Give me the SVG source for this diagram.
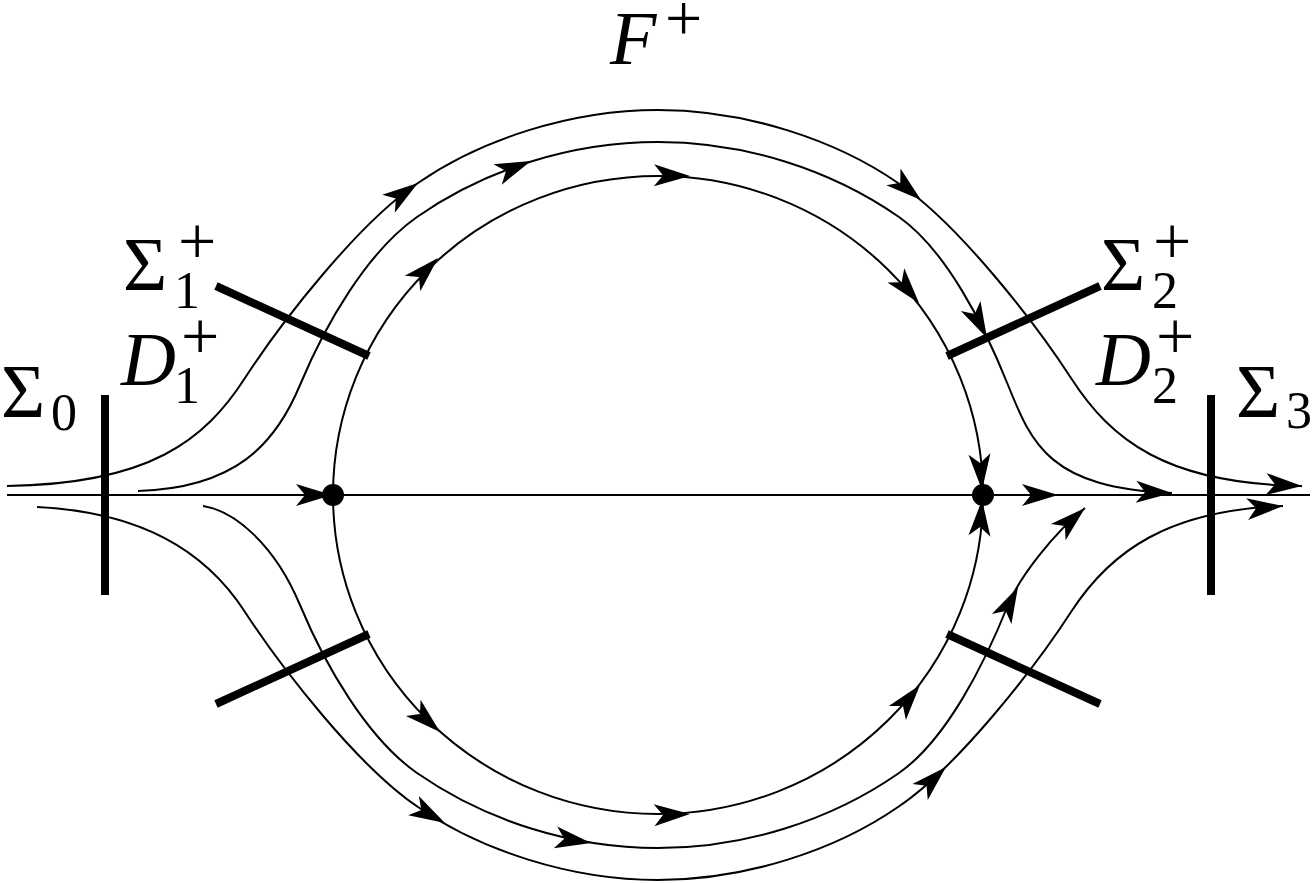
<svg xmlns="http://www.w3.org/2000/svg" width="1313" height="883" viewBox="0 0 1313 883">
<style>
.c{fill:none;stroke:#000;stroke-width:2}
.bar{fill:none;stroke:#000;stroke-width:8;stroke-linecap:butt}
.t{font-family:"Liberation Serif","Times New Roman",serif;fill:#000}
.i{font-style:italic}
.n{font-style:normal}
</style>
<defs>
<path id="ah" d="M0,0 L-36,-11 L-27,0 L-36,11 Z" fill="#000"/>
</defs>
<rect width="1313" height="883" fill="#fff"/>
<g id="connectors">
<line class="c" x1="7" y1="495" x2="1310" y2="495"/>
<ellipse class="c" cx="658" cy="495" rx="325" ry="319"/>
<path class="c" d="M138,491 C235,488 275,445 300,385 C325,325 367,252 417,217 C486,169 572,142 658,142 C744,142 830,169 899,217 C946,250 984,325 1008,385 C1032,445 1050,488 1172,493"/>
<path class="c" d="M7,486 C150,484 205,440 245,378 C280,324 358,223 418,183 C480,140 570,110 658,110 C746,110 836,140 898,183 C958,223 1036,324 1071,378 C1111,440 1166,484 1302,486"/>
<path class="c" d="M203,506 C235,511 275,545 300,605 C325,665 367,738 417,773 C486,821 572,848 658,848 C744,848 830,821 899,773 C946,740 984,665 1008,605 C1020,576 1055,532 1085,508"/>
<path class="c" d="M37,507 C140,512 205,550 245,612 C280,666 358,767 418,807 C480,850 570,880 658,880 C746,880 836,850 898,807 C958,767 1036,666 1071,612 C1111,550 1170,510 1283,506"/>
<use href="#ah" transform="translate(332,495)"/>
<use href="#ah" transform="translate(1058,495)"/>
<use href="#ah" transform="translate(438,258) rotate(-45)"/>
<use href="#ah" transform="translate(690,176) rotate(1)"/>
<use href="#ah" transform="translate(919,303) rotate(50)"/>
<use href="#ah" transform="translate(982,490) rotate(86)"/>
<use href="#ah" transform="translate(982,500) rotate(-86)"/>
<use href="#ah" transform="translate(440,732) rotate(42)"/>
<use href="#ah" transform="translate(690,814) rotate(-2)"/>
<use href="#ah" transform="translate(920,685) rotate(-51)"/>
<use href="#ah" transform="translate(531,161) rotate(-22)"/>
<use href="#ah" transform="translate(987,338) rotate(63)"/>
<use href="#ah" transform="translate(1172,493) rotate(2)"/>
<use href="#ah" transform="translate(591,843) rotate(9)"/>
<use href="#ah" transform="translate(1018,587) rotate(-63)"/>
<use href="#ah" transform="translate(1085,508) rotate(-42)"/>
<use href="#ah" transform="translate(418,183) rotate(-35)"/>
<use href="#ah" transform="translate(921,200) rotate(40)"/>
<use href="#ah" transform="translate(1302,486) rotate(3)"/>
<use href="#ah" transform="translate(445,823) rotate(29)"/>
<use href="#ah" transform="translate(946,767) rotate(-44)"/>
<use href="#ah" transform="translate(1283,506) rotate(-5)"/>
</g>
<g id="sigma0"><line class="bar" x1="105" y1="395" x2="105" y2="595"/></g>
<g id="sigma3"><line class="bar" x1="1211" y1="395" x2="1211" y2="595"/></g>
<g id="sigma1"><line class="bar" x1="216" y1="286" x2="369" y2="356"/></g>
<g id="sigma2"><line class="bar" x1="1100" y1="286" x2="947" y2="356"/></g>
<g id="sigma1m"><line class="bar" x1="216" y1="704" x2="369" y2="634"/></g>
<g id="sigma2m"><line class="bar" x1="1100" y1="704" x2="947" y2="634"/></g>
<g id="saddle1"><circle cx="333" cy="495" r="11" fill="#000"/></g>
<g id="saddle2"><circle cx="983" cy="495" r="11" fill="#000"/></g>
<g id="labels">
<text class="t i" x="610" y="64" font-size="76">F<tspan class="n" x="665" y="40" font-size="66">+</tspan></text>
<text class="t" x="123" y="290" font-size="76">Σ<tspan x="178" y="264" font-size="68">+</tspan><tspan x="174" y="308" font-size="52">1</tspan></text>
<text class="t i" x="121" y="385" font-size="76">D<tspan class="n" x="181" y="359" font-size="68">+</tspan><tspan class="n" x="174" y="403" font-size="52">1</tspan></text>
<text class="t" x="1" y="417" font-size="76">Σ<tspan x="51" y="430" font-size="52">0</tspan></text>
<text class="t" x="1101" y="290" font-size="76">Σ<tspan x="1153" y="264" font-size="68">+</tspan><tspan x="1152" y="308" font-size="52">2</tspan></text>
<text class="t i" x="1096" y="385" font-size="76">D<tspan class="n" x="1156" y="359" font-size="68">+</tspan><tspan class="n" x="1152" y="403" font-size="52">2</tspan></text>
<text class="t" x="1236" y="417" font-size="76">Σ<tspan x="1286" y="428" font-size="52">3</tspan></text>
</g>
</svg>
